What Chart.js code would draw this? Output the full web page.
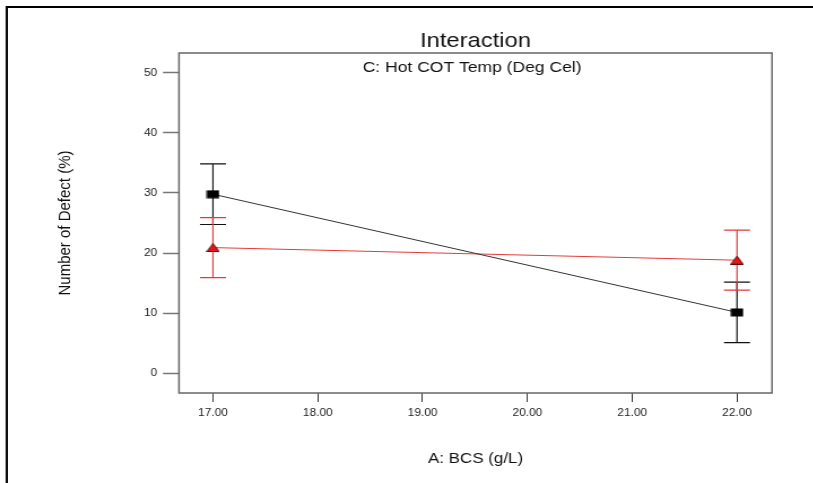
<!DOCTYPE html>
<html><head><meta charset="utf-8">
<script src="https://cdn.jsdelivr.net/npm/chart.js@4"></script>
<style>
html,body{margin:0;padding:0;background:#fff;}
#wrap{position:relative;width:813px;height:483px;overflow:hidden;}
#frame{position:absolute;left:6px;top:6px;width:820px;height:500px;border-top:2px solid #000;border-left:2px solid #111;box-shadow:-1px 0 0 #999;}
canvas{position:absolute;left:0;top:0;transform:scale(1.13,1);transform-origin:0 0;}
</style></head><body>
<div id="wrap"><div id="frame"></div><canvas id="c" width="720" height="483"></canvas></div>
<script>
// Data
const categories = [17, 22];
const xTickValues = [17, 18, 19, 20, 21, 22];
const yTickValues = [0, 10, 20, 30, 40, 50];
const seriesLow = [29.8, 10.1];     // black squares
const seriesLowErr = [5.05, 5.05];
const seriesHigh = [20.9, 18.8];    // red triangles
const seriesHighErr = [5.0, 5.0];
const titleText = 'Interaction';
const subtitleText = 'C: Hot COT Temp (Deg Cel)';
const xTitle = 'A: BCS (g/L)';
const yTitle = 'Number of Defect (%)';

const FONT = '"Liberation Sans", Arial, sans-serif';

function makeMarker(kind){
  const cv = document.createElement('canvas');
  cv.width = 12; cv.height = 9;
  const g = cv.getContext('2d');
  if(kind === 'rect'){
    g.fillStyle = '#000';
    g.fillRect(0.5, 0.5, 11, 8);
  } else {
    g.beginPath();
    g.moveTo(6, 0.5); g.lineTo(11.5, 8.5); g.lineTo(0.5, 8.5); g.closePath();
    g.fillStyle = '#e8141c'; g.fill();
    g.strokeStyle = '#5a0000'; g.lineWidth = 1; g.stroke();
  }
  return cv;
}

const errPlugin = {
  id: 'errbars',
  beforeDatasetsDraw(chart){
    const ctx = chart.ctx, xs = chart.scales.x, ys = chart.scales.y;
    chart.data.datasets.forEach(ds => {
      ds.data.forEach((p, i) => {
        const e = ds.errors[i];
        const x = xs.getPixelForValue(p.x);
        const yt = ys.getPixelForValue(p.y + e), yb = ys.getPixelForValue(p.y - e);
        ctx.save();
        ctx.strokeStyle = ds.errColor; ctx.lineWidth = 1.2;
        ctx.beginPath();
        ctx.moveTo(x, yt); ctx.lineTo(x, yb);
        ctx.moveTo(x - 11.5, yt); ctx.lineTo(x + 11.5, yt);
        ctx.moveTo(x - 11.5, yb); ctx.lineTo(x + 11.5, yb);
        ctx.stroke();
        ctx.restore();
      });
    });
  },
  afterDraw(chart){
    const ctx = chart.ctx, a = chart.chartArea;
    ctx.save();
    ctx.strokeStyle = '#666'; ctx.lineWidth = 1.5;
    ctx.strokeRect(a.left, a.top, a.right - a.left, a.bottom - a.top);
    ctx.fillStyle = '#111';
    ctx.font = '15.5px ' + FONT;
    ctx.textAlign = 'center'; ctx.textBaseline = 'middle';
    ctx.fillText(subtitleText, (a.left + a.right) / 2 - 3, a.top + 15);
    ctx.restore();
  }
};

new Chart(document.getElementById('c'), {
  type: 'scatter',
  data: {
    datasets: [
      { data: categories.map((x, i) => ({x, y: seriesLow[i]})), errors: seriesLowErr, errColor: '#111',
        showLine: true, borderColor: '#333', borderWidth: 1, pointStyle: makeMarker('rect'),
        pointRadius: 7, backgroundColor: '#000' },
      { data: categories.map((x, i) => ({x, y: seriesHigh[i]})), errors: seriesHighErr, errColor: '#e8343a',
        showLine: true, borderColor: '#e83a3a', borderWidth: 1, pointStyle: makeMarker('tri'),
        pointRadius: 7, backgroundColor: '#e8141c' }
    ]
  },
  options: {
    responsive: false, animation: false, devicePixelRatio: 1,
    layout: { padding: { left: 0, right: 36.8, top: 0, bottom: 0 } },
    plugins: {
      legend: { display: false }, tooltip: { enabled: false },
      title: { display: true, text: titleText, fullSize: false, color: '#111',
        font: { family: FONT, size: 21, weight: 'normal', lineHeight: 1 },
        padding: { top: 30.5, bottom: 1.5 } }
    },
    scales: {
      x: {
        type: 'linear', min: 16.676, max: 22.334,
        afterBuildTicks: s => { s.ticks = xTickValues.map(v => ({value: v})); },
        afterFit: s => { s.height = 90; },
        ticks: { callback: v => Number(v).toFixed(2), color: '#222', padding: 5, maxRotation: 0,
          font: { family: FONT, size: 10.5 } },
        grid: { drawOnChartArea: false, drawTicks: true, tickLength: 9, color: '#333', tickWidth: 1 },
        border: { display: false },
        title: { display: true, text: xTitle, color: '#111', padding: { top: 0, bottom: 15 },
          font: { family: FONT, size: 15 } }
      },
      y: {
        min: -3.333, max: 53.333,
        afterBuildTicks: s => { s.ticks = yTickValues.map(v => ({value: v})); },
        afterFit: s => { s.width = 158.4; },
        ticks: { color: '#222', padding: 5,
          font: { family: FONT, size: 10.5 } },
        grid: { drawOnChartArea: false, drawTicks: true, tickLength: 14.2, color: '#777', tickWidth: 1.5 },
        border: { display: false },
        title: { display: true, text: yTitle, color: '#111', padding: { top: 48.5, bottom: 0 },
          font: { family: FONT, size: 15 } }
      }
    }
  },
  plugins: [errPlugin]
});
</script>
</body></html>
